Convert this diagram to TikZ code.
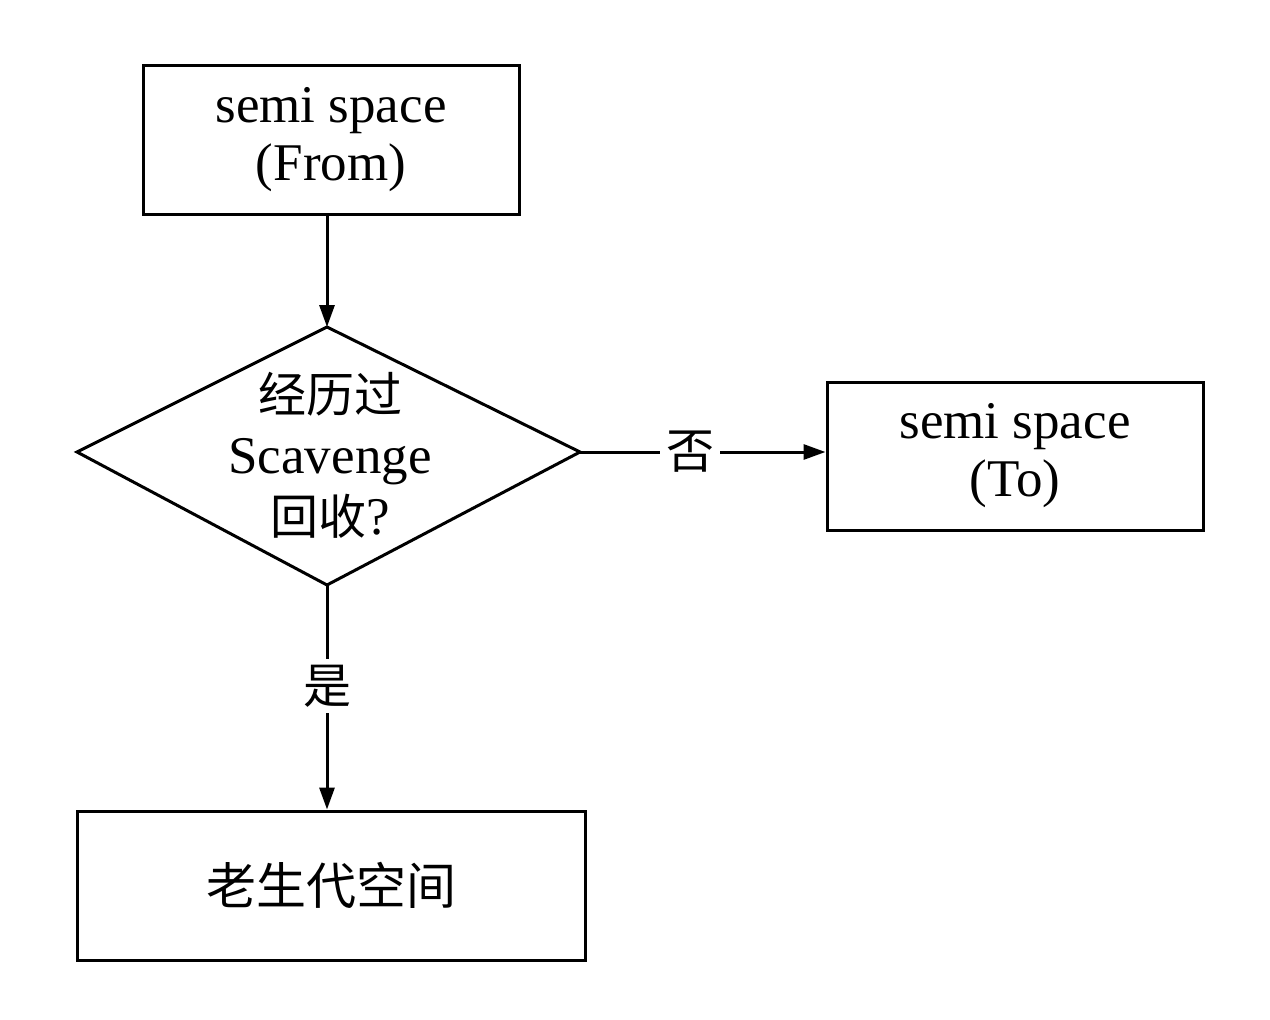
\documentclass[tikz,border=0pt]{standalone}
\usepackage{fontspec}
\setmainfont{Liberation Serif}
\newfontfamily\cjk{Noto Sans CJK SC}
\usetikzlibrary{arrows.meta}
\tikzset{
  box/.style={draw, line width=3pt, inner sep=0pt, align=center, font=\fontsize{53}{58}\selectfont},
  conn/.style={line width=3pt, -{Triangle[length=22pt,width=15pt]}},
  plain/.style={line width=3pt},
  lbl/.style={fill=white, inner sep=6pt, font=\fontsize{48}{58}\selectfont\cjk}
}
\begin{document}
\begin{tikzpicture}[x=1pt,y=-1pt]
\useasboundingbox (0,0) rectangle (1270,1020);
\node[box, minimum width=376pt, minimum height=149pt] (from) at (331,139.5) {semi space\\(From)};
\node[box, minimum width=376pt, minimum height=148pt] (to) at (1015,456) {semi space\\(To)};
\node[box, minimum width=508pt, minimum height=149pt, font=\fontsize{50}{58}\selectfont\cjk] (old) at (331,885.5) {老生代空间};
\coordinate (dt) at (327,327);
\coordinate (dr) at (580,452);
\coordinate (db) at (327,585);
\coordinate (dl) at (77,452);
\draw[line width=3pt, line join=miter] (dt) -- (dr) -- (db) -- (dl) -- cycle;
\node[align=center, inner sep=0pt, font=\fontsize{53}{61}\selectfont] (q) at (330,455)
  {{\fontsize{48}{58}\selectfont\cjk 经历过}\\Scavenge\\{\fontsize{48}{58}\selectfont\cjk 回收}?};
\draw[conn] (from.south -| dt) -- (dt);
\draw[conn] (dr) -- (dr -| to.west) node[lbl, pos=0.45] (no) {否};
\draw[conn] (db) -- (db |- old.north) node[lbl, pos=0.45] (yes) {是};
\end{tikzpicture}
\end{document}
